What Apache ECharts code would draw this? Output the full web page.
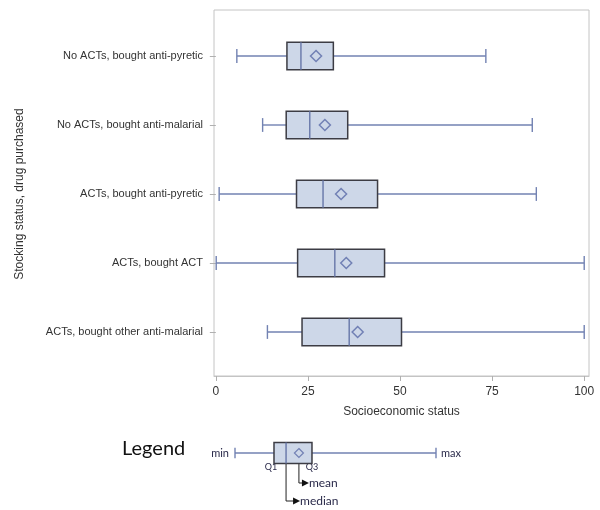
<!DOCTYPE html>
<html>
<head>
<meta charset="utf-8">
<script src="https://cdn.jsdelivr.net/npm/echarts@6/dist/echarts.min.js"></script>
<style>
  html, body { margin: 0; padding: 0; background: #fff; }
  #main { width: 600px; height: 510px; }
</style>
</head>
<body>
<div id="main"></div>
<script>
//---------------数据---------------
const categories = [
  'No ACTs, bought anti-pyretic',
  'No ACTs, bought anti-malarial',
  'ACTs, bought anti-pyretic',
  'ACTs, bought ACT',
  'ACTs, bought other anti-malarial'
]
const minVals = [5.7, 12.7, 0.9, 0.1, 14.0]
const q1Vals = [19.3, 19.1, 21.9, 22.2, 23.4]
const medianVals = [23.1, 25.5, 29.1, 32.3, 36.2]
const q3Vals = [31.9, 35.8, 43.9, 45.8, 50.4]
const maxVals = [73.3, 85.9, 87.0, 100, 100]
const meanVals = [27.2, 29.6, 34.0, 35.4, 38.5]
const xTicks = [0, 25, 50, 75, 100]

// 图例里的示意箱线图
const legendStats = [0, 19.4, 25.4, 38.3, 100]
const legendMean = 31.8

const font = 'Liberation Sans, Arial, sans-serif'
const calibri = 'Lato, Carlito, sans-serif'

//---------------箱线图 custom---------------
function renderBox(params, api) {
  const cat = api.value(0)
  const band = api.size([0, 1])[1]
  const xs = [1, 2, 3, 4, 5].map(d => api.coord([api.value(d), cat])[0])
  const cy = api.coord([0, cat])[1]
  const bh = band * 0.4
  const ch = band * 0.2
  const whisker = { stroke: '#7282b2', lineWidth: 1.4 }
  return {
    type: 'group',
    children: [
      { type: 'line', shape: { x1: xs[0], y1: cy, x2: xs[1], y2: cy }, style: whisker },
      { type: 'line', shape: { x1: xs[3], y1: cy, x2: xs[4], y2: cy }, style: whisker },
      { type: 'line', shape: { x1: xs[0], y1: cy - ch / 2, x2: xs[0], y2: cy + ch / 2 }, style: whisker },
      { type: 'line', shape: { x1: xs[4], y1: cy - ch / 2, x2: xs[4], y2: cy + ch / 2 }, style: whisker },
      {
        type: 'rect',
        shape: { x: xs[1], y: cy - bh / 2, width: xs[3] - xs[1], height: bh },
        style: { fill: '#cdd7e8', stroke: '#3c3c44', lineWidth: 1.5 }
      },
      { type: 'line', shape: { x1: xs[2], y1: cy - bh / 2, x2: xs[2], y2: cy + bh / 2 }, style: { stroke: '#6676a8', lineWidth: 1.4 } }
    ]
  }
}

let myChart = echarts.init(document.querySelector('#main'))
let option = {
  animation: false,
  grid: [
    // 数据网格
    { left: 214, right: 11, top: 21.5, bottom: 143.5 },
    // 外框网格
    { left: 214, right: 11, top: 10, bottom: 134, show: true, borderColor: '#c4c4c4', borderWidth: 1 },
    // 图例网格
    { left: 235, right: 164, top: 427, height: 52 }
  ],
  xAxis: [
    { gridIndex: 0, type: 'value', min: -0.5, max: 101.3, show: false },
    {
      gridIndex: 1, type: 'value', min: -0.5, max: 101.3,
      splitLine: { show: false },
      axisLine: { show: true, lineStyle: { color: '#c4c4c4' } },
      axisTick: { show: true, length: 5, customValues: xTicks, lineStyle: { color: '#b0b0b0' } },
      axisLabel: { customValues: xTicks, margin: 10, color: '#333', fontSize: 12, fontFamily: font },
      name: 'Socioeconomic status',
      nameLocation: 'middle',
      nameGap: 30,
      nameTextStyle: { color: '#333', fontSize: 12, fontFamily: font }
    },
    { gridIndex: 2, type: 'value', min: 0, max: 100, show: false }
  ],
  yAxis: [
    {
      gridIndex: 0, type: 'category', data: categories, inverse: true,
      axisLine: { show: false },
      axisTick: { show: true, alignWithLabel: true, length: 6, lineStyle: { color: '#b0b0b0' } },
      axisLabel: { margin: 11, color: '#333', fontSize: 11, fontFamily: font },
      name: 'Stocking status, drug purchased',
      nameLocation: 'middle',
      nameRotate: 90,
      nameGap: 188,
      nameTextStyle: { color: '#333', fontSize: 12, fontFamily: font }
    },
    { gridIndex: 1, type: 'value', show: false },
    { gridIndex: 2, type: 'category', data: ['legend'], show: false }
  ],
  series: [
    {
      type: 'custom',
      xAxisIndex: 0, yAxisIndex: 0,
      renderItem: renderBox,
      encode: { x: [1, 2, 3, 4, 5], y: 0 },
      data: categories.map((c, i) => [i, minVals[i], q1Vals[i], medianVals[i], q3Vals[i], maxVals[i]]),
      z: 2
    },
    {
      type: 'scatter',
      xAxisIndex: 0, yAxisIndex: 0,
      symbol: 'diamond',
      symbolSize: 11,
      itemStyle: { color: 'rgba(0,0,0,0)', borderColor: '#5a6aa8', borderWidth: 1.5 },
      data: meanVals.map((v, i) => [v, i]),
      z: 3
    },
    {
      type: 'custom',
      xAxisIndex: 2, yAxisIndex: 2,
      renderItem: renderBox,
      encode: { x: [1, 2, 3, 4, 5], y: 0 },
      data: [[0].concat(legendStats)],
      z: 2
    },
    {
      type: 'scatter',
      xAxisIndex: 2, yAxisIndex: 2,
      symbol: 'diamond',
      symbolSize: 9,
      itemStyle: { color: 'rgba(0,0,0,0)', borderColor: '#5a6aa8', borderWidth: 1.2 },
      data: [[legendMean, 0]],
      z: 3
    }
  ]
}
myChart.setOption(option)

//---------------图例的文字和箭头---------------
const px = v => myChart.convertToPixel({ gridIndex: 2 }, [v, 0])
const pMin = px(legendStats[0])
const pQ1 = px(legendStats[1])
const pMed = px(legendStats[2])
const pQ3 = px(legendStats[3])
const pMax = px(legendStats[4])
const pMean = px(legendMean)
const cy = pMin[1]
const small = { fill: '#2a2a4a', fontFamily: calibri }
const lineStyle = { stroke: '#222', lineWidth: 1 }
function arrow(x, y) {
  return { type: 'polygon', shape: { points: [[x, y - 3.5], [x + 7, y], [x, y + 3.5]] }, style: { fill: '#111' } }
}
const meanY = cy + 30
const medY = cy + 48
myChart.setOption({
  graphic: [
    { type: 'text', left: 122, top: 439, style: { text: 'Legend', fontSize: 20, fill: '#111', fontFamily: calibri } },
    { type: 'text', x: pMin[0] - 6, y: cy, style: Object.assign({ text: 'min', fontSize: 11, align: 'right', verticalAlign: 'middle' }, small) },
    { type: 'text', x: pMax[0] + 5, y: cy, style: Object.assign({ text: 'max', fontSize: 11, align: 'left', verticalAlign: 'middle' }, small) },
    { type: 'text', x: pQ1[0] - 3, y: cy + 14, style: Object.assign({ text: 'Q1', fontSize: 9, align: 'center', verticalAlign: 'middle' }, small) },
    { type: 'text', x: pQ3[0], y: cy + 14, style: Object.assign({ text: 'Q3', fontSize: 9, align: 'center', verticalAlign: 'middle' }, small) },
    { type: 'polyline', shape: { points: [[pMean[0], cy + 5], [pMean[0], meanY], [pMean[0] + 4, meanY]] }, style: lineStyle },
    arrow(pMean[0] + 3, meanY),
    { type: 'text', x: pMean[0] + 10, y: meanY, style: Object.assign({ text: 'mean', fontSize: 12, align: 'left', verticalAlign: 'middle' }, small) },
    { type: 'polyline', shape: { points: [[pMed[0], cy + 10], [pMed[0], medY], [pMed[0] + 8, medY]] }, style: lineStyle },
    arrow(pMed[0] + 7, medY),
    { type: 'text', x: pMed[0] + 14, y: medY, style: Object.assign({ text: 'median', fontSize: 12, align: 'left', verticalAlign: 'middle' }, small) }
  ]
})
</script>
</body>
</html>
